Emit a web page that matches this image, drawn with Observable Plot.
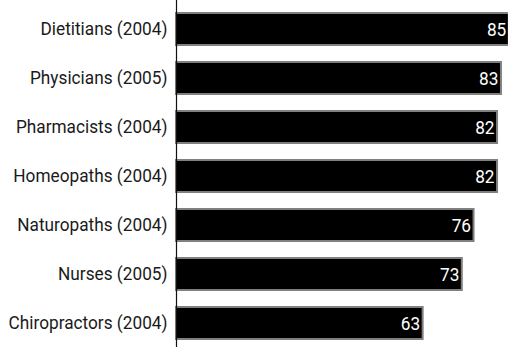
<!DOCTYPE html>
<html>
<head>
<meta charset="utf-8">
<script src="https://cdn.jsdelivr.net/npm/d3@7"></script>
<script src="https://cdn.jsdelivr.net/npm/@observablehq/plot@0.6"></script>
<style>
  html, body { margin: 0; padding: 0; background: #fff; }
  #chart svg { display: block; }
</style>
</head>
<body>
<div id="chart"></div>
<script>
const professions = ["Dietitians (2004)", "Physicians (2005)", "Pharmacists (2004)", "Homeopaths (2004)", "Naturopaths (2004)", "Nurses (2005)", "Chiropractors (2004)"];
const values = [85, 83, 82, 82, 76, 73, 63];

const data = professions.map((p, i) => ({profession: p, value: values[i]}));

const font = "Roboto, 'Liberation Sans', Arial, sans-serif";

const chart = Plot.plot({
  width: 508,
  height: 347,
  marginLeft: 176,
  marginRight: 0,
  marginTop: 0,
  marginBottom: 0,
  style: {fontFamily: font, fontSize: "18px", fontWeight: 400, color: "#1a1a1a", background: "#fff"},
  x: {domain: [0, 84.8], axis: null},
  y: {domain: professions, range: [0, 352], paddingInner: 0.338, paddingOuter: 0.2, label: null},
  marks: [
    Plot.barX(data, {y: "profession", x: "value", fill: "black", stroke: "#808080", strokeWidth: 2}),
    Plot.text(data, {y: "profession", x: "value", text: d => String(d.value), fill: "white", textAnchor: "end", dx: -3, dy: 1, fontSize: 18, fontFamily: font}),
    Plot.ruleX([0], {stroke: "#111", strokeWidth: 1.2}),
    Plot.axisY({tickSize: 0, tickPadding: 9, fontSize: 18, label: null, fill: "#1a1a1a"})
  ]
});
document.getElementById("chart").appendChild(chart);

// condense the text horizontally (the reference uses a condensed face)
const texts = Array.from(chart.querySelectorAll("text"));
const lens = texts.map(t => t.getComputedTextLength());
const refIdx = texts.findIndex(t => t.textContent === professions[0]);
const factor = refIdx >= 0 ? 127 / lens[refIdx] : 0.8;
texts.forEach((t, i) => {
  t.setAttribute("textLength", (lens[i] * factor).toFixed(2));
  t.setAttribute("lengthAdjust", "spacingAndGlyphs");
});
</script>
</body>
</html>
